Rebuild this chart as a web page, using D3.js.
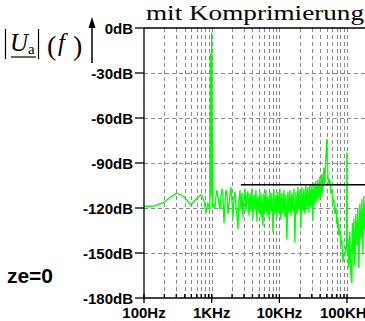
<!DOCTYPE html>
<html><head><meta charset="utf-8">
<script src="https://cdn.jsdelivr.net/npm/d3@7"></script>
<style>body{margin:0;background:#fff}svg{display:block}</style>
</head><body><svg id="c" width="365" height="321"></svg>
<script>
const yTicksDb = [0,-30,-60,-90,-120,-150,-180];
const yTickLabels = ["0dB","-30dB","-60dB","-90dB","-120dB","-150dB","-180dB"];
const xTicksHz = [100,1000,10000,100000];
const xTickLabels = ["100Hz","1KHz","10KHz","100KHz"];
const titleText = "mit Komprimierung";
const sideText = "ze=0";
const limitStartHz = 2700;
const limitDb = -104.5;

const traceHz = [
 100,145,191,242,307,390,495,587,695,770,824,880,940,958,975,1000,1030,
 1081,1118,1157,1197,1238,1281,1326,1372,1419,1468,1519,1572,1626,1682,1740,1801,1863,1927,1994,2063,2134,2208,2285,2364,2445,2530,2617,2708,2801,2898,2999,3102,3209,3320,
 3435,3554,3677,3804,3935,4071,4212,4358,4508,4664,4826,4992,5165,5344,5529,5720,5917,6122,6334,6553,6779,7014,7256,7507,7767,8036,8313,8601,8898,9206,9524,9854,
 10195,10547,10912,11290,11680,12084,12502,12934,13382,13845,14324,14819,15332,15862,16411,16979,17566,18173,18802,19453,20126,20822,21542,22287,23058,23856,24681,25535,26418,27332,28278,29256,30268,31315,32398,33519,34679,35878,37119,38403,39732,41106,42528,44000,45522,47096,48725,50411,
 52155,53959,55825,57756,59754,61821,63960,66173,68462,70830,73281,75816,78439,81153,83960,86865,89870,92979,96196,98500,99524,100600,102967,106530,110215,114028,117973,120000,122055,126278,130646,135166,139843,144681,149686,154865,160223,165766,171501,177434,183573,189924
];
const traceDb = [
 -119,-118.5,-116.5,-113,-110,-112.5,-118,-114,-111,-115,-123,-117,-121,-17,-112,-3,-119,
 -118,-120,-112,-108,-113,-117,-121,-113,-107,-112,-130,-117,-108,-110,-124,-118,-111,-106,-115,-127,-113,-109,-119,-125,-134,-116,-108,-121,-110,-126,-112,-107,-122,-111,
 -109,-125,-110,-122,-107,-127,-111,-121,-108,-129,-112,-123,-109,-126,-111,-132,-110,-123,-108,-125,-112,-127,-109,-122,-110,-136,-108,-124,-111,-126,-109,-123,
 -107,-128,-110,-124,-108,-126,-111,-141,-109,-123,-108,-125,-110,-122,-107,-143,-109,-124,-106,-121,-108,-133,-106,-122,-107,-124,-105,-120,-106,-123,-104,-119,-105,-128,-103,-118,-102,-116,-101,-114,-99,-113,-97,-110,-93,-105,-86,-74,
 -99,-104,-101,-110,-108,-117,-114,-124,-120,-131,-127,-138,-134,-145,-141,-156,-150,-152,-146,-145,-83,-150,-140,-160,-136,-165,-170,-130,-150,-127,-158,-124,-145,-120,-160,-117,-140,-114,-150,-112,-135,-110
];

const svg = d3.select("#c");
const x = d3.scaleLog().domain([100, 100000]).range([144, 347]);
const y = d3.scaleLinear().domain([-180, 0]).range([298, 28]);
const X0 = 144, X1 = 365, Y0 = 28, Y1 = 298;

svg.append("defs").append("clipPath").attr("id","pc")
  .append("rect").attr("x",X0).attr("y",Y0).attr("width",X1-X0).attr("height",Y1-Y0);

const gridHz = [];
xTicksHz.forEach(d => { for (let k=1;k<=9;k++) { const f=d*k; if (x(f) <= X1+0.5) gridHz.push(f); } });

const grid = svg.append("g").attr("stroke","#8a8a8a").attr("stroke-width",1).attr("stroke-dasharray","4,3");
grid.selectAll("line.v").data(gridHz.filter(f => f > 100)).join("line")
  .attr("x1", d => Math.round(x(d))+0.5).attr("x2", d => Math.round(x(d))+0.5)
  .attr("y1", Y0).attr("y2", Y1);
grid.selectAll("line.h").data(yTicksDb.filter(d => d < 0 && d > -180)).join("line")
  .attr("x1", X0).attr("x2", X1)
  .attr("y1", d => Math.round(y(d))+0.5).attr("y2", d => Math.round(y(d))+0.5);

const pts = traceHz.map((f,i) => [f, traceDb[i]]);
svg.append("path").datum(pts).attr("clip-path","url(#pc)")
  .attr("fill","none").attr("stroke","#00ff00").attr("stroke-width",1.35)
  .attr("d", d3.line().x(d => x(d[0])).y(d => y(d[1])));

svg.append("line").attr("x1", x(limitStartHz)).attr("x2", X1)
  .attr("y1", y(limitDb)).attr("y2", y(limitDb))
  .attr("stroke","#000").attr("stroke-width",1.5);

const ax = svg.append("g").attr("stroke","#000").attr("stroke-width",1.3);
ax.append("line").attr("x1",X0).attr("x2",X0).attr("y1",Y0).attr("y2",Y1+2);
ax.append("line").attr("x1",X0).attr("x2",X1).attr("y1",Y1).attr("y2",Y1);
ax.append("line").attr("x1",X0).attr("x2",X1).attr("y1",Y0).attr("y2",Y0);
ax.selectAll("line.yt").data(yTicksDb).join("line")
  .attr("x1",X0-9).attr("x2",X0).attr("y1",d=>y(d)).attr("y2",d=>y(d));
ax.selectAll("line.xt").data(gridHz).join("line")
  .attr("x1",d=>x(d)).attr("x2",d=>x(d))
  .attr("y1",Y1-4)
  .attr("y2",d=> xTicksHz.includes(d) ? Y1+5 : Y1);

const lab = svg.append("g").attr("font-family","'Liberation Sans', Arial, sans-serif")
  .attr("font-weight","bold").attr("font-size",15).attr("fill","#000");
lab.selectAll("text.y").data(yTicksDb).join("text")
  .attr("x", X0-11).attr("y", d => y(d)+5.5).attr("text-anchor","end")
  .text((d,i) => yTickLabels[i]);
lab.selectAll("text.x").data(xTicksHz).join("text")
  .attr("x", d => x(d)).attr("y", 318).attr("text-anchor","middle")
  .text((d,i) => xTickLabels[i]);

svg.append("text").attr("x",53).attr("y",283).attr("text-anchor","end")
  .attr("font-family","'Liberation Sans', Arial, sans-serif").attr("font-weight","bold")
  .attr("font-size",21).text(sideText);

svg.append("text").attr("x",146).attr("y",20)
  .attr("font-family","'Liberation Serif', 'Times New Roman', serif").attr("font-size",22)
  .attr("textLength",218).attr("lengthAdjust","spacingAndGlyphs").text(titleText);

const yl = svg.append("g").attr("font-family","'Liberation Serif', 'Times New Roman', serif").attr("fill","#000");
yl.append("line").attr("x1",5.5).attr("x2",5.5).attr("y1",29).attr("y2",59).attr("stroke","#000").attr("stroke-width",1.2);
yl.append("line").attr("x1",38.5).attr("x2",38.5).attr("y1",29).attr("y2",59).attr("stroke","#000").attr("stroke-width",1.2);
yl.append("text").attr("x",10).attr("y",51).attr("font-size",25).attr("font-style","italic").text("U");
yl.append("text").attr("x",28).attr("y",54).attr("font-size",15).text("a");
yl.append("line").attr("x1",11).attr("x2",36).attr("y1",57).attr("y2",57).attr("stroke","#000").attr("stroke-width",1.2);
yl.append("text").attr("x",47).attr("y",55).attr("font-size",28).text("(");
yl.append("text").attr("x",58).attr("y",51).attr("font-size",25).attr("font-style","italic").text("f");
yl.append("text").attr("x",73).attr("y",55).attr("font-size",28).text(")");
svg.append("line").attr("x1",92).attr("x2",92).attr("y1",63).attr("y2",24).attr("stroke","#000").attr("stroke-width",1.5);
svg.append("path").attr("d","M88.5,28 L92,17 L95.5,28 Z").attr("fill","#000");
</script></body></html>
